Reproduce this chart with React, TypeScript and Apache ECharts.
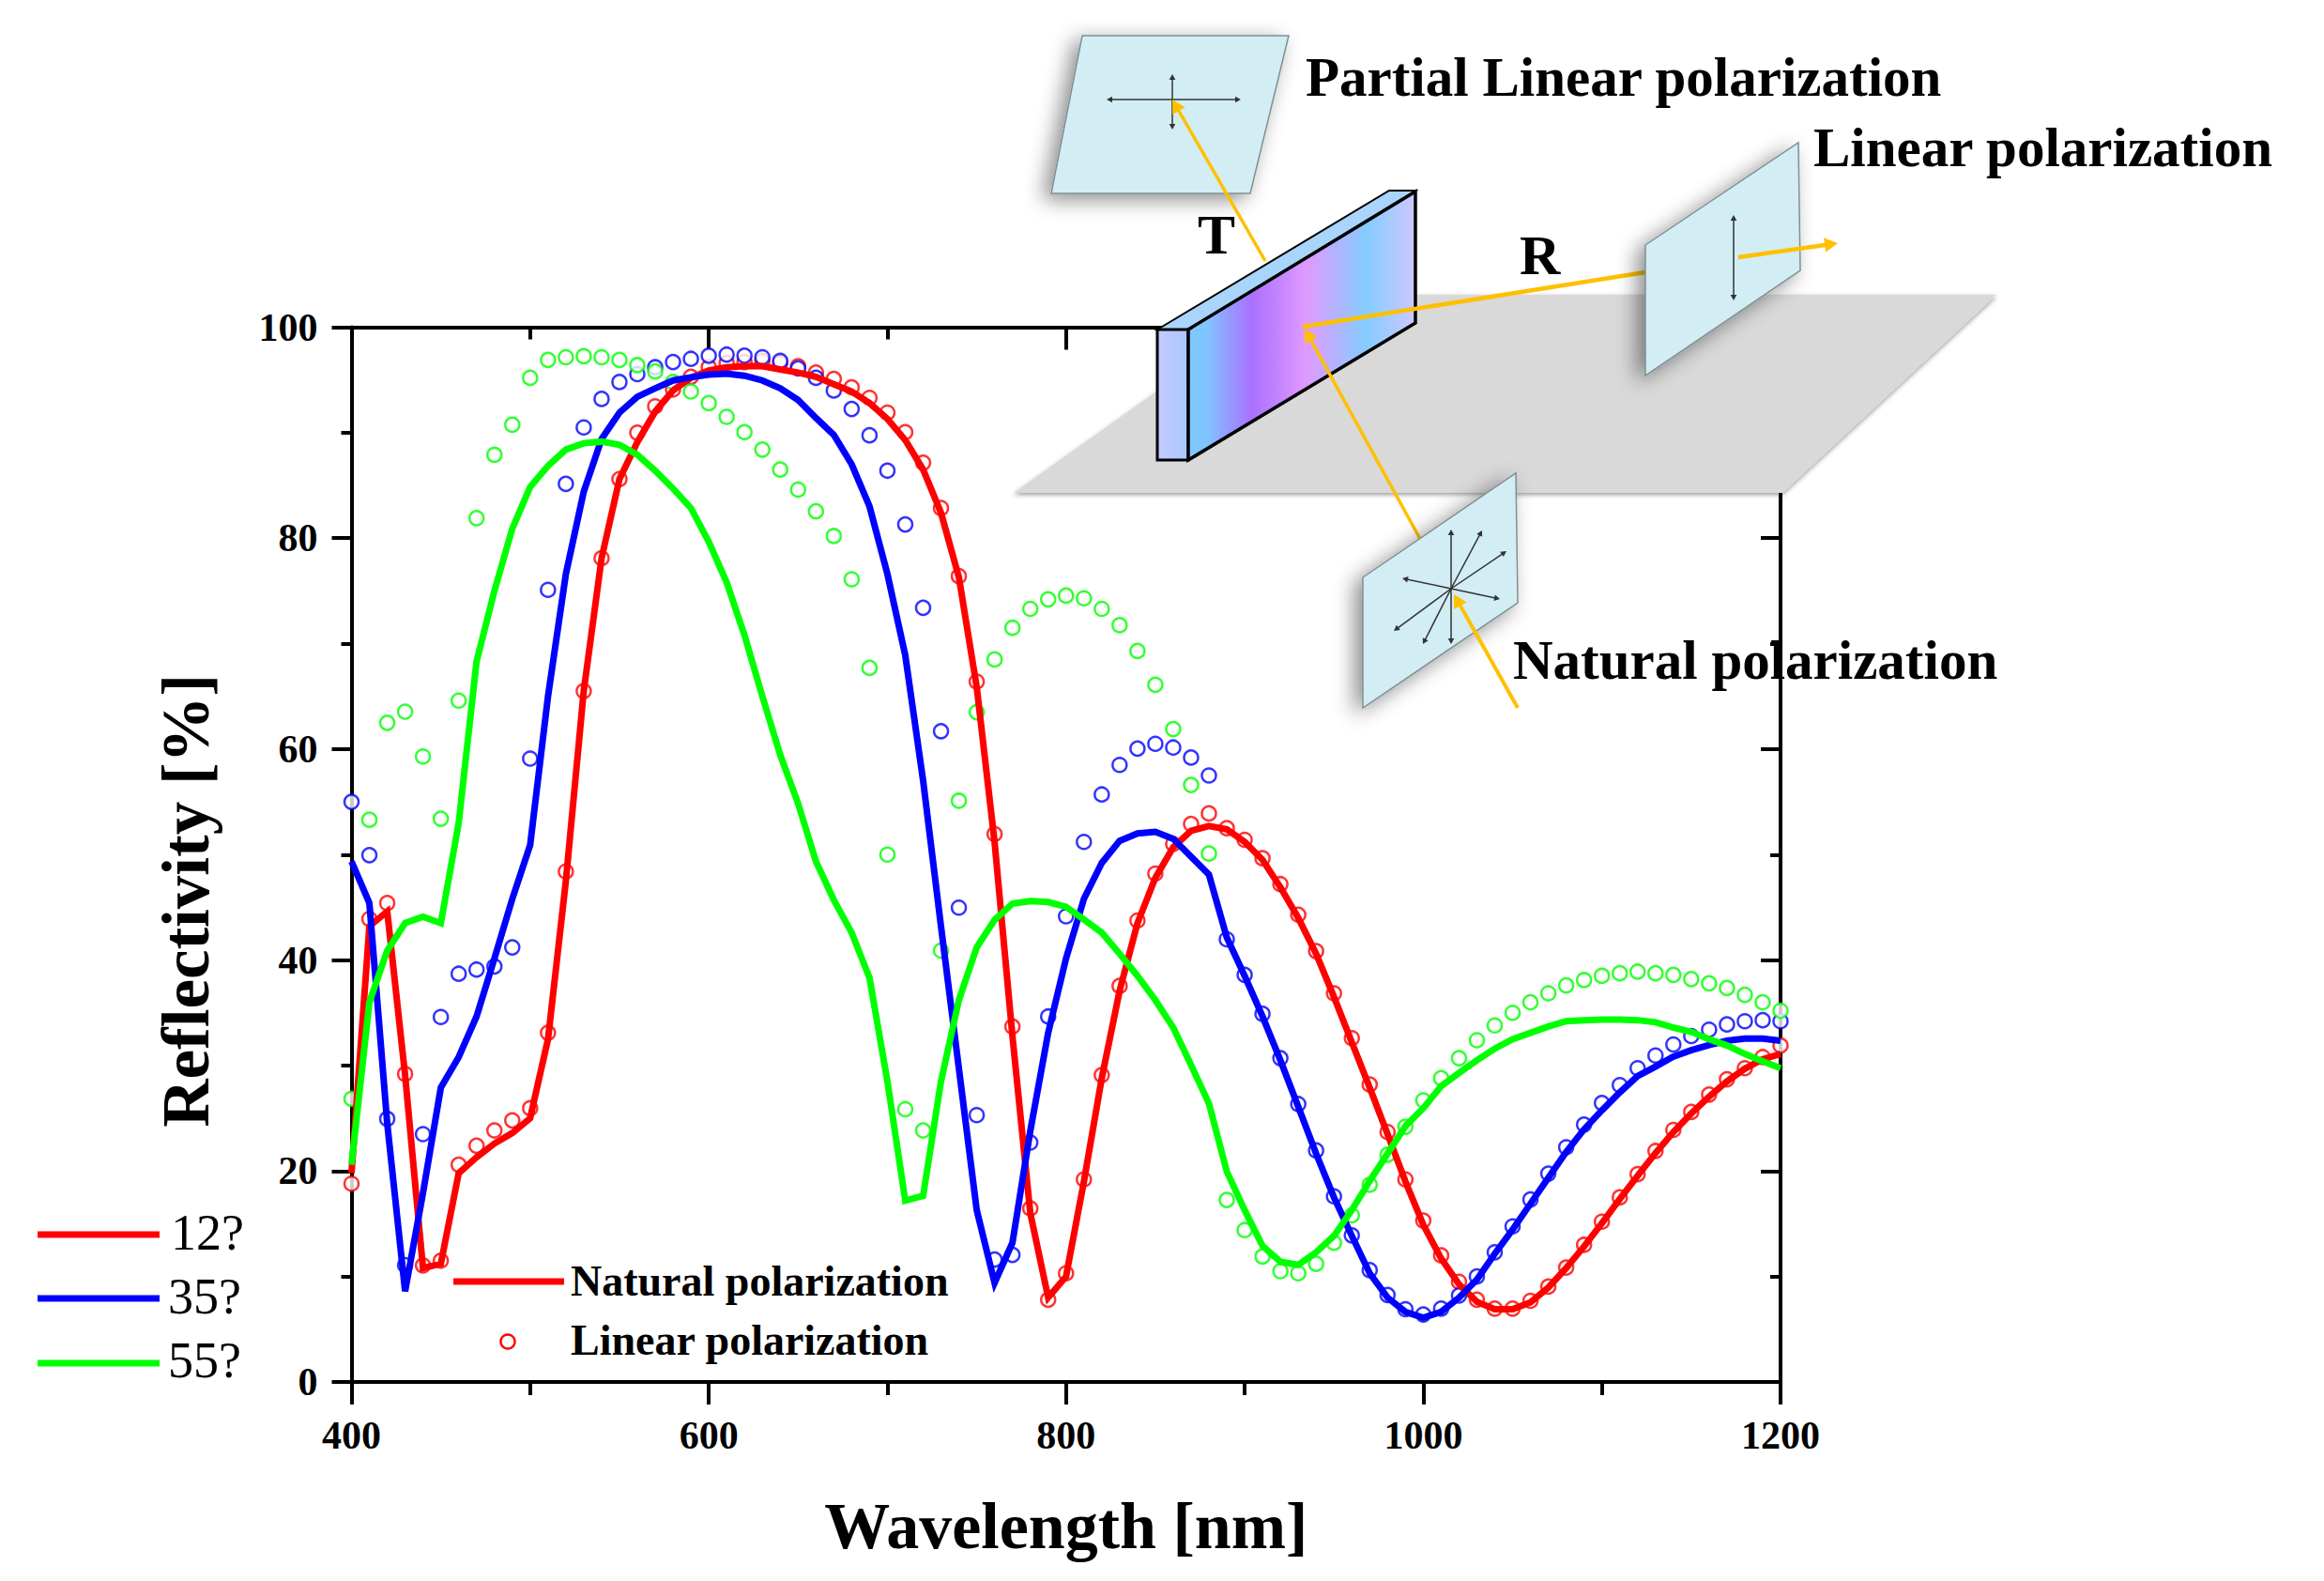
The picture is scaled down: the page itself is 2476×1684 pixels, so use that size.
import { useEffect, useRef } from "react";
import * as echarts from "echarts";

const wavelengths = [
  400, 410, 420, 430, 440, 450, 460, 470, 480, 490,
  500, 510, 520, 530, 540, 550, 560, 570, 580, 590,
  600, 610, 620, 630, 640, 650, 660, 670, 680, 690,
  700, 710, 720, 730, 740, 750, 760, 770, 780, 790,
  800, 810, 820, 830, 840, 850, 860, 870, 880, 890,
  900, 910, 920, 930, 940, 950, 960, 970, 980, 990,
  1000, 1010, 1020, 1030, 1040, 1050, 1060, 1070, 1080, 1090,
  1100, 1110, 1120, 1130, 1140, 1150, 1160, 1170, 1180, 1190,
  1200,
];

// natural polarization (lines)
const natural12 = [
  19.8, 43.2, 44.6, 29.1, 10.8, 11.2, 19.8, 21.3, 22.6, 23.6,
  25.0, 32.5, 47.5, 65.5, 78.1, 85.6, 89.1, 92, 94, 95.2,
  95.9, 96.2, 96.3, 96.3, 96, 95.7, 95.3, 94.6, 93.9, 92.8,
  91.3, 89.3, 86.5, 82.4, 76.3, 65.9, 51.2, 32.8, 16, 8,
  10, 19, 28.8, 37.1, 43.5, 47.8, 50.7, 52.25, 52.7, 52.4,
  51.2, 49.5, 46.9, 44, 40.6, 36.5, 32.2, 27.9, 23.5, 19,
  14.9, 11.7, 9.25, 7.6, 6.9, 6.9, 7.55, 8.95, 10.8, 12.85,
  15.05, 17.35, 19.55, 21.7, 23.7, 25.45, 27.05, 28.5, 29.7, 30.6,
  31.1,
];
const natural35 = [
  49.35, 45.4, 24.5, 8.6, 17.9, 27.9, 30.8, 34.65, 40.15, 45.8,
  50.9, 65, 76.6, 84.4, 89.4, 91.9, 93.4, 94.2, 94.95, 95.25,
  95.5, 95.6, 95.4, 94.95, 94.2, 93.1, 91.4, 89.8, 87, 83,
  76.6, 68.9, 57, 43.2, 29.75, 16.3, 9.4, 13.2, 23.8, 33.1,
  40.15, 45.8, 49.2, 51.3, 52, 52.15, 51.5, 49.8, 48.1, 42.15,
  38.5, 34.65, 30.5, 26.1, 21.65, 17.5, 13.85, 10.3, 8, 6.65,
  6.1, 6.65, 8, 9.7, 12.15, 14.45, 16.9, 19.35, 21.8, 23.95,
  25.75, 27.45, 29, 29.9, 30.85, 31.45, 31.95, 32.35, 32.55, 32.55,
  32.35,
];
const natural55 = [
  20.6, 36, 40.9, 43.5, 44.1, 43.5, 53, 68.3, 75, 80.9,
  84.85, 86.85, 88.4, 89, 89.15, 88.85, 87.9, 86.4, 84.7, 82.85,
  79.65, 75.8, 70.8, 65, 59.45, 54.85, 49.35, 45.7, 42.6, 38.3,
  28.5, 17.2, 17.65, 28.5, 36.2, 41.2, 43.8, 45.35, 45.6, 45.5,
  45.05, 43.85, 42.6, 40.6, 38.5, 36.2, 33.6, 30.05, 26.4, 19.95,
  16.3, 12.9, 11.4, 11.1, 12.3, 13.85, 16.3, 19.05, 21.65, 24.25,
  25.95, 28.05, 29.3, 30.5, 31.6, 32.5, 33.1, 33.7, 34.2, 34.3,
  34.35, 34.35, 34.3, 34.1, 33.6, 33.2, 32.5, 31.9, 31.1, 30.4,
  29.75,
];

// linear polarization (open circles)
const linear12 = [
  18.8, 43.9, 45.4, 29.2, 11.05, 11.5, 20.6, 22.4, 23.85, 24.8,
  25.95, 33.1, 48.4, 65.5, 78.1, 85.6, 90, 92.5, 94.1, 95.3,
  96.2, 96.6, 96.7, 96.8, 96.6, 96.3, 95.7, 95.1, 94.3, 93.3,
  91.9, 90.05, 87.15, 82.85, 76.4, 66.4, 51.95, 33.7, 16.45, 7.8,
  10.3, 19.2, 29.1, 37.55, 43.75, 48.2, 51, 52.9, 53.9, 52.5,
  51.4, 49.65, 47.2, 44.3, 40.85, 36.85, 32.6, 28.2, 23.7, 19.2,
  15.3, 12, 9.5, 7.8, 6.95, 6.95, 7.7, 9.05, 10.85, 13,
  15.2, 17.5, 19.7, 21.9, 23.9, 25.6, 27.25, 28.7, 29.75, 30.8,
  31.9,
];
const linear35 = [
  55, 49.95, 24.95, 11.08, 23.5, 34.6, 38.7, 39.1, 39.4, 41.2,
  59.1, 75.1, 85.15, 90.5, 93.2, 94.8, 95.55, 96.2, 96.7, 97,
  97.3, 97.4, 97.3, 97.15, 96.8, 96.1, 95.2, 94, 92.25, 89.75,
  86.4, 81.3, 73.4, 61.7, 44.97, 25.3, 11.6, 12.05, 22.7, 34.65,
  44.15, 51.2, 55.7, 58.5, 60.05, 60.5, 60.15, 59.2, 57.5, 41.97,
  38.6, 34.9, 30.7, 26.35, 21.95, 17.6, 13.9, 10.6, 8.25, 6.9,
  6.4, 6.95, 8.2, 10, 12.3, 14.75, 17.3, 19.75, 22.25, 24.4,
  26.45, 28.15, 29.75, 30.95, 32, 32.8, 33.4, 33.9, 34.2, 34.3,
  34.2,
];
const linear55 = [
  26.85, 53.3, 62.5, 63.55, 59.3, 53.4, 64.6, 81.9, 87.9, 90.75,
  95.2, 96.9, 97.15, 97.25, 97.15, 96.9, 96.4, 95.8, 94.8, 93.9,
  92.8, 91.5, 90.05, 88.4, 86.5, 84.6, 82.55, 80.2, 76.1, 67.7,
  50, 25.86, 23.85, 40.9, 55.1, 63.5, 68.5, 71.5, 73.3, 74.2,
  74.55, 74.3, 73.3, 71.75, 69.3, 66.1, 61.9, 56.6, 50.1, 17.26,
  14.4, 11.9, 10.5, 10.3, 11.2, 13.2, 15.8, 18.7, 21.55, 24.2,
  26.7, 28.8, 30.7, 32.4, 33.8, 35, 36, 36.85, 37.6, 38.1,
  38.5, 38.75, 38.9, 38.75, 38.6, 38.2, 37.8, 37.35, 36.7, 36,
  35.2,
];

const RED = "#ff0000";
const BLUE = "#0000ff";
const GREEN = "#00ff00";
const AMBER = "#ffc000";
const SERIF = '"Liberation Serif"';
const Z = 50;

const pairs = (ys: number[]) => ys.map((y, i) => [wavelengths[i], y]);

const lineSeries = (name: string, ys: number[], color: string) => ({
  name,
  type: "line",
  data: pairs(ys),
  showSymbol: false,
  lineStyle: { color, width: 7, join: "miter" },
  itemStyle: { color },
});

const dotSeries = (name: string, ys: number[], color: string) => ({
  name,
  type: "scatter",
  data: pairs(ys),
  symbol: "circle",
  symbolSize: 15,
  itemStyle: { color: "#fff", borderColor: color, borderWidth: 2.5 },
});

const poly = (points: number[][], style: object) => ({
  type: "polygon",
  z: Z,
  shape: { points },
  style,
});

const seg = (x1: number, y1: number, x2: number, y2: number, stroke: string, lineWidth: number) => ({
  type: "line",
  z: Z,
  shape: { x1, y1, x2, y2 },
  style: { stroke, lineWidth },
});

// line with a small head at its far end
const arrow = (x1: number, y1: number, x2: number, y2: number, color: string, lineWidth: number, head: number) => {
  const a = Math.atan2(y2 - y1, x2 - x1);
  const side = head * 0.55;
  return [
    seg(x1, y1, x2 - Math.cos(a) * head * 0.6, y2 - Math.sin(a) * head * 0.6, color, lineWidth),
    poly(
      [
        [x2, y2],
        [x2 - Math.cos(a) * head - Math.sin(a) * side, y2 - Math.sin(a) * head + Math.cos(a) * side],
        [x2 - Math.cos(a) * head + Math.sin(a) * side, y2 - Math.sin(a) * head - Math.cos(a) * side],
      ],
      { fill: color },
    ),
  ];
};

const label = (text: string, x: number, y: number, size: number, weight = "bold") => ({
  type: "text",
  z: Z + 1,
  x,
  y,
  style: { text, font: `${weight} ${size}px ${SERIF}`, fill: "#000", textAlign: "left", textVerticalAlign: "bottom" },
});

const panelStyle = {
  fill: "#d3edf4",
  stroke: "#7f8f93",
  lineWidth: 1.5,
  shadowBlur: 22,
  shadowColor: "rgba(0,0,0,0.45)",
  shadowOffsetX: -8,
  shadowOffsetY: 6,
};

const INK = "#333";

const diagram = () => [
  poly([[1080, 525], [1377, 314], [2127, 314], [1899, 525]], {
    fill: "#d9d9d9",
    shadowBlur: 5,
    shadowColor: "rgba(0,0,0,0.4)",
    shadowOffsetY: 2,
  }),
  // top left screen
  poly([[1153, 38], [1373, 38], [1332, 206], [1120, 206]], panelStyle),
  ...arrow(1249, 106, 1179, 106, INK, 1.5, 6),
  ...arrow(1249, 106, 1322, 106, INK, 1.5, 6),
  ...arrow(1249, 106, 1249, 79, INK, 1.5, 6),
  ...arrow(1249, 106, 1249, 138, INK, 1.5, 6),
  // the plate
  poly([[1233, 351], [1480, 203], [1508, 203], [1266, 351]], { fill: "#a9d4fb", stroke: "#000", lineWidth: 2 }),
  poly([[1233, 351], [1266, 351], [1266, 490], [1233, 490]], {
    fill: new echarts.graphic.LinearGradient(0, 0, 1, 0, [
      { offset: 0, color: "#c6ccff" },
      { offset: 1, color: "#a9c6ff" },
    ]),
    stroke: "#000",
    lineWidth: 3,
  }),
  poly([[1266, 351], [1508, 204], [1508, 344], [1266, 490]], {
    fill: new echarts.graphic.LinearGradient(0, 0, 1, 0, [
      { offset: 0, color: "#7fc8ff" },
      { offset: 0.08, color: "#80c4ff" },
      { offset: 0.28, color: "#aa70ff" },
      { offset: 0.52, color: "#e09aff" },
      { offset: 0.78, color: "#85ccff" },
      { offset: 1, color: "#ccc8ff" },
    ]),
    stroke: "#000",
    lineWidth: 3.5,
  }),
  // right screen
  seg(1388, 348, 1753, 290, AMBER, 4.5),
  poly([[1753, 261], [1916, 152], [1918, 288], [1753, 400]], panelStyle),
  ...arrow(1847, 275, 1847, 229, INK, 1.5, 6),
  ...arrow(1847, 275, 1847, 320, INK, 1.5, 6),
  ...arrow(1852, 274, 1958, 259, AMBER, 4.5, 14),
  // bottom screen
  ...arrow(1513, 574, 1390, 350, AMBER, 3.5, 14),
  poly([[1452, 615], [1615, 504], [1617, 642], [1452, 754]], panelStyle),
  ...arrow(1546, 627, 1546, 564, INK, 1.5, 6),
  ...arrow(1546, 627, 1579, 565, INK, 1.5, 6),
  ...arrow(1546, 627, 1605, 587, INK, 1.5, 6),
  ...arrow(1546, 627, 1494, 616, INK, 1.5, 6),
  ...arrow(1546, 627, 1598, 638, INK, 1.5, 6),
  ...arrow(1546, 627, 1485, 672, INK, 1.5, 6),
  ...arrow(1546, 627, 1516, 686, INK, 1.5, 6),
  ...arrow(1546, 627, 1546, 686, INK, 1.5, 6),
  ...arrow(1617, 754, 1549, 633, AMBER, 4, 14),
  ...arrow(1348, 278, 1249, 106, AMBER, 3.5, 14),
  label("Partial Linear polarization", 1391, 111, 59),
  label("Linear polarization", 1932, 186, 59),
  label("Natural polarization", 1612, 732, 59),
  label("T", 1276, 280, 60),
  label("R", 1619, 302, 60),
];

const legends = () => [
  seg(40, 1315, 170, 1315, RED, 7),
  seg(40, 1383, 170, 1383, BLUE, 7),
  seg(40, 1452, 170, 1452, GREEN, 7),
  label("12?", 182, 1340, 54, "normal"),
  label("35?", 179, 1408, 54, "normal"),
  label("55?", 179, 1476, 54, "normal"),
  seg(483, 1365, 601, 1365, RED, 7),
  label("Natural polarization", 608, 1387, 46),
  { type: "circle", z: Z, shape: { cx: 541, cy: 1429, r: 7.5 }, style: { fill: "#fff", stroke: RED, lineWidth: 2.5 } },
  label("Linear polarization", 608, 1450, 46),
];

const axisLine = { show: true, onZero: false, lineStyle: { color: "#000", width: 4 } };
const tickStyle = { color: "#000", width: 4 };

const App = () => {
  const chartRef = useRef<HTMLDivElement>(null);

  useEffect(() => {
    if (!chartRef.current) return;
    const chart = echarts.init(chartRef.current, null, { renderer: "svg" });

    const option = {
      animation: false,
      backgroundColor: "#fff",
      grid: { left: 374.5, right: 2476 - 1897, top: 348.5, bottom: 1684 - 1472, containLabel: false },
      xAxis: [
        {
          type: "value",
          position: "bottom",
          min: 400,
          max: 1200,
          interval: 200,
          axisLine,
          axisTick: { show: true, length: 24, lineStyle: tickStyle },
          minorTick: { show: true, splitNumber: 2, length: 14, lineStyle: tickStyle },
          splitLine: { show: false },
          minorSplitLine: { show: false },
          axisLabel: {
            color: "#000",
            fontFamily: SERIF,
            fontWeight: "bold",
            fontSize: 42,
            margin: 36,
            formatter: (v: number) => String(v),
          },
          name: "Wavelength [nm]",
          nameLocation: "middle",
          nameGap: 118,
          nameTextStyle: { color: "#000", fontFamily: SERIF, fontWeight: "bold", fontSize: 70 },
        },
        {
          type: "value",
          position: "top",
          min: 400,
          max: 1200,
          interval: 200,
          axisLine,
          axisTick: { show: true, inside: true, length: 24, lineStyle: tickStyle },
          minorTick: { show: true, splitNumber: 2, length: 13, lineStyle: tickStyle },
          splitLine: { show: false },
          axisLabel: { show: false },
        },
      ],
      yAxis: [
        {
          type: "value",
          position: "left",
          min: 0,
          max: 100,
          interval: 20,
          axisLine,
          axisTick: { show: true, length: 21, lineStyle: tickStyle },
          minorTick: { show: true, splitNumber: 2, length: 11, lineStyle: tickStyle },
          splitLine: { show: false },
          axisLabel: { color: "#000", fontFamily: SERIF, fontWeight: "bold", fontSize: 42, margin: 36 },
          name: "Reflectivity [%]",
          nameLocation: "middle",
          nameGap: 141,
          nameTextStyle: { color: "#000", fontFamily: SERIF, fontWeight: "bold", fontSize: 71, padding: [0, 98, 0, 0] },
        },
        {
          type: "value",
          position: "right",
          min: 0,
          max: 100,
          interval: 20,
          axisLine,
          axisTick: { show: true, inside: true, length: 21, lineStyle: tickStyle },
          minorTick: { show: true, splitNumber: 2, length: 11, lineStyle: tickStyle },
          splitLine: { show: false },
          axisLabel: { show: false },
        },
      ],
      series: [
        lineSeries("12? natural", natural12, RED),
        dotSeries("12? linear", linear12, RED),
        lineSeries("35? natural", natural35, BLUE),
        dotSeries("35? linear", linear35, BLUE),
        lineSeries("55? natural", natural55, GREEN),
        dotSeries("55? linear", linear55, GREEN),
      ],
      graphic: { elements: [...legends(), ...diagram()] },
    };

    chart.setOption(option);
    return () => chart.dispose();
  }, []);

  return <div ref={chartRef} style={{ position: "absolute", left: 0, top: 0, width: 2476, height: 1684 }} />;
};

export default App;
